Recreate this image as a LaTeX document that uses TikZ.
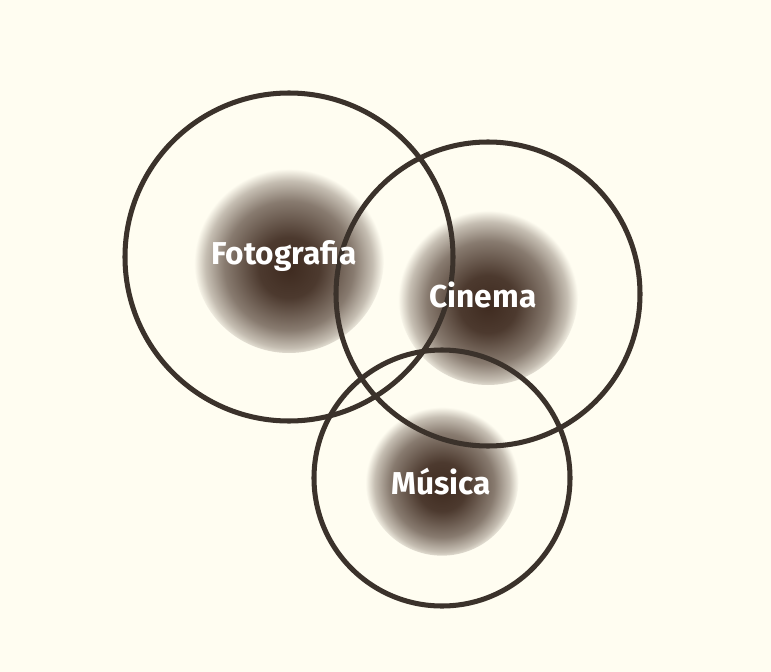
\documentclass[tikz,border=0pt]{standalone}
\usepackage{fontspec}
\setsansfont{Fira Sans}
\usepackage{tikz}
\usetikzlibrary{positioning}
\definecolor{paper}{HTML}{FFFDF1}
\definecolor{ringcol}{HTML}{3B322B}
\definecolor{core}{HTML}{3F2B20}
\pgfdeclareradialshading{blobshade}{\pgfpoint{0bp}{-3bp}}{color(0bp)=(core); color(8bp)=(core!93!paper); color(17bp)=(core!62!paper); color(22bp)=(core!30!paper); color(25bp)=(paper); color(50bp)=(paper)}

\begin{document}
\begin{tikzpicture}[x=0.03cm, y=-0.03cm,
			blob/.style={circle, shading=blobshade, inner sep=0pt},
			ring/.style={draw=ringcol, line width=4.3pt},
			lbl/.style={text=white, font=\sffamily\bfseries\fontsize{27}{30}\selectfont}
			]
			\fill[paper] (0,0) rectangle (771,672);
			\useasboundingbox (0,0) rectangle (771,672);
			
			\node[blob, minimum size=5.7cm] (fotoblob) at (289,258) {};
			\node[blob, minimum size=5.4cm] (cineblob) at (488,295) {};
			\node[blob, minimum size=4.6cm] (musblob) at (442,479) {};
			
			\draw[ring] (289,257) circle (164);
			\draw[ring] (488,294) circle (152);
			\draw[ring] (442,478) circle (128);
			
			\node[lbl] (foto) at (284,256) {Fotografia};
			\node[lbl] (cine) at (483,295) {Cinema};
			\node[lbl] (mus) at (441,482) {Música};
		\end{tikzpicture}
\end{document}
